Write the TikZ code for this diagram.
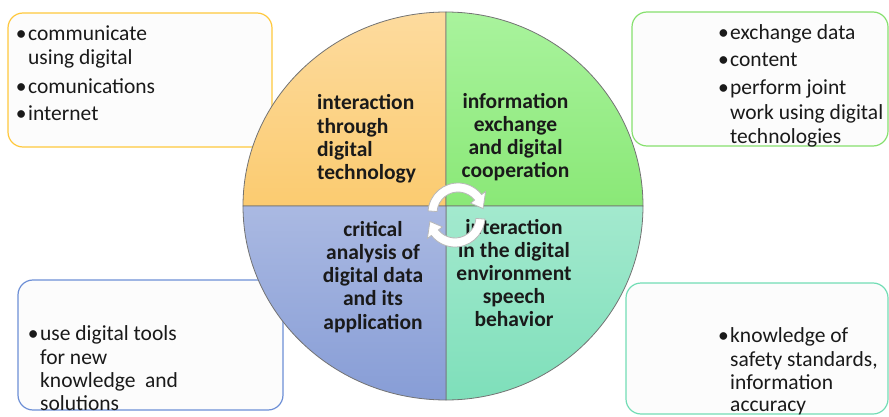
\documentclass[tikz,border=0pt]{standalone}
\usepackage{fontspec}
\setmainfont{Carlito}
\usetikzlibrary{calc}
\definecolor{tlA}{HTML}{FDDB9E}
\definecolor{tlB}{HTML}{FBCB70}
\definecolor{trA}{HTML}{A9F39D}
\definecolor{trB}{HTML}{8AE877}
\definecolor{blA}{HTML}{AAB9E2}
\definecolor{blB}{HTML}{879DD6}
\definecolor{brA}{HTML}{A3E9CE}
\definecolor{brB}{HTML}{7EDFBA}
\definecolor{tlBox}{HTML}{FFC83D}
\definecolor{trBox}{HTML}{86E06E}
\definecolor{blBox}{HTML}{6D8FD6}
\definecolor{brBox}{HTML}{72DDB5}
\definecolor{ink}{HTML}{1A1A1A}
\begin{document}
\begin{tikzpicture}[x=1pt,y=1pt,
  quad/.style={draw=black!55, line width=0.8pt},
  infobox/.style={rounded corners=15pt, fill=black!1, line width=1.2pt},
  boxtxt/.style={font=\fontsize{21.5}{24}\selectfont, text=ink, inner sep=0pt, anchor=base west},
  circtxt/.style={font=\fontsize{21.5}{23}\selectfont\bfseries, text=ink, inner sep=0pt},
  cyc/.style={fill=white, draw=black!28, line width=0.8pt}]
\useasboundingbox (0,0) rectangle (889,416);

% side boxes
\draw[infobox, draw=tlBox] (8,269) rectangle (272,403);
\draw[infobox, draw=trBox] (632,270) rectangle (888,404);
\draw[infobox, draw=blBox] (18,6) rectangle (283,136);
\draw[infobox, draw=brBox] (626,2) rectangle (888,133);

% quadrants
\coordinate (O) at (446,210);
\draw[quad, top color=tlA, bottom color=tlB] (O) -- (243,210) arc[start angle=180,end angle=90,x radius=203,y radius=194] -- cycle;
\draw[quad, top color=trA, bottom color=trB] (O) -- (446,404) arc[start angle=90,end angle=0,x radius=197,y radius=194] -- cycle;
\draw[quad, top color=brA, bottom color=brB] (O) -- (643,210) arc[start angle=0,end angle=-90,x radius=197,y radius=194] -- cycle;
\draw[quad, top color=blA, bottom color=blB] (O) -- (446,16) arc[start angle=-90,end angle=-180,x radius=203,y radius=194] -- cycle;

% box texts
\newcommand{\bul}{\llap{\textbullet\hspace{1.5pt}}}
\node[boxtxt] (tl1) at (28,375) {\bul communicate};
\node[boxtxt] (tl2) at (28,351) {using digital};
\node[boxtxt] (tl3) at (28,323) {\bul comunications};
\node[boxtxt] (tl4) at (28,296) {\bul internet};

\node[boxtxt] (tr1) at (730,376) {\bul exchange data};
\node[boxtxt] (tr2) at (730,349) {\bul content};
\node[boxtxt] (tr3) at (730,321) {\bul perform joint};
\node[boxtxt] (tr4) at (730,297) {work using digital};
\node[boxtxt] (tr5) at (730,273) {technologies};

\node[boxtxt] (bl1) at (40,76) {\bul use digital tools};
\node[boxtxt] (bl2) at (40,52) {for new};
\node[boxtxt] (bl3) at (40,29) {knowledge\ \ and};
\node[boxtxt] (bl4) at (40,6) {solutions};

\node[boxtxt] (br1) at (730,74) {\bul knowledge of};
\node[boxtxt] (br2) at (730,50) {safety standards,};
\node[boxtxt] (br3) at (730,27) {information};
\node[boxtxt] (br4) at (730,5) {accuracy};

% circle texts
\foreach \t [count=\i] in {interaction,through,digital,technology}
  \node[circtxt, anchor=base west] (ctl\i) at (317,{306-23*(\i-1)}) {\t};
\foreach \t [count=\i] in {information,exchange,and digital,cooperation}
  \node[circtxt, anchor=base] (ctr\i) at (515.5,{308-23*(\i-1)}) {\t};
\foreach \t [count=\i] in {critical,analysis of,digital data,and its,application}
  \node[circtxt, anchor=base] (cbl\i) at (373,{180-23.25*(\i-1)}) {\t};
\foreach \t [count=\i] in {interaction,in the digital,environment,speech,behavior}
  \node[circtxt, anchor=base] (cbr\i) at (514,{182-23*(\i-1)}) {\t};

% cycle arrows
\coordinate (U) at (458,203);
\coordinate (L) at (455,199);
\draw[cyc] ($(U)+(176:30)$) arc[start angle=176,end angle=38,radius=30]
  -- ($(U)+(38:35)$) -- ($(U)+(10:25.5)$) -- ($(U)+(38:16)$) -- ($(U)+(38:21)$)
  arc[start angle=38,end angle=176,radius=21] -- cycle;
\draw[cyc] ($(L)+(-4:30)$) arc[start angle=-4,end angle=-142,radius=30]
  -- ($(L)+(-142:35)$) -- ($(L)+(-170:25.5)$) -- ($(L)+(-142:16)$) -- ($(L)+(-142:21)$)
  arc[start angle=-142,end angle=-4,radius=21] -- cycle;
\end{tikzpicture}
\end{document}
